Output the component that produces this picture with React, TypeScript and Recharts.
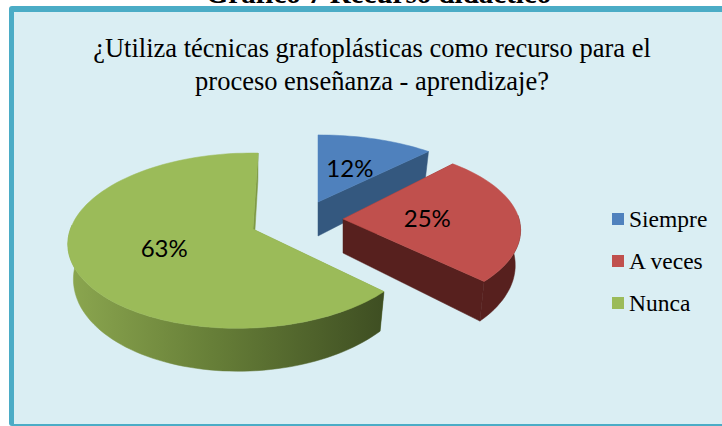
import { Cell, Legend, Pie, PieChart } from "recharts";

const categories = ["Siempre", "A veces", "Nunca"];
const percentages = [12, 25, 63];
const colors = ["#4f81bd", "#c0504d", "#9bbb59"];

const tableData = categories.map((name, i) => ({ name, value: percentages[i] }));

// look of the tilted pie: offset of each exploded slice, radii, perspective
const SLICE_LOOK: Record<string, any> = {
  Siempre: { dx: 65, dy: -27, rx: 177, ry: 76, q: 0, shear: 0, wall: "#34587f", cut: "#34587f", labelAt: 0.52 },
  "A veces": { dx: 90, dy: -10, rx: 176, ry: 83, q: 0, shear: 0, wall: "#57201e", cut: "#57201e", labelAt: 0.48 },
  Nunca: { dx: 0, dy: 0, rx: 174.5, ry: 86, q: 0.044, shear: 0.067, wall: "url(#wallGreen)", cut: "#7f9a45", labelAt: 0.52 },
};

const PERSPECTIVE = 0.133;
const DEPTH = 34;
const LOWER_SCALE_X = 0.97;
const LOWER_SCALE_Y = 1.09;

function project(cx: number, cy: number, look: any, angle: number, f: number, lower = false) {
  const t = ((90 - angle) * Math.PI) / 180;
  const u = Math.sin(t) * f;
  const v = Math.cos(t) * f;
  const w = 1 + PERSPECTIVE * v + look.q * u;
  const py = (-v * look.ry) / w;
  const px = (u * look.rx) / w - look.shear * py;
  const x = lower ? px * LOWER_SCALE_X : px;
  const y = lower ? py * LOWER_SCALE_Y + DEPTH : py;
  return { x: cx + look.dx + x, y: cy + look.dy + y };
}

const pathOf = (pts: { x: number; y: number }[]) =>
  "M" + pts.map((p) => `${p.x.toFixed(1)},${p.y.toFixed(1)}`).join("L") + "Z";

function TiltedSlice(props: any) {
  const { cx, cy, startAngle, endAngle, fill, name } = props;
  const look = SLICE_LOOK[name];
  const steps = Math.ceil(Math.abs(endAngle - startAngle) / 2);
  const angles = Array.from({ length: steps + 1 }, (_, i) => startAngle + ((endAngle - startAngle) * i) / steps);
  const apex = project(cx, cy, look, 0, 0);
  const apexLow = project(cx, cy, look, 0, 0, true);
  const rim = angles.map((a) => project(cx, cy, look, a, 1));
  const rimLow = angles.map((a) => project(cx, cy, look, a, 1, true));
  const last = rim.length - 1;
  // only the near part of the rim shows a wall, the rest sits behind the top face
  const near = angles.filter((a) => Math.sin((a * Math.PI) / 180) < 0.05);
  const wall = [
    ...near.map((a) => project(cx, cy, look, a, 1)),
    ...near.map((a) => project(cx, cy, look, a, 1, true)).reverse(),
  ];
  return (
    <g>
      <path d={pathOf([apex, rim[0], rimLow[0], apexLow])} fill={look.cut} />
      <path d={pathOf([apex, rim[last], rimLow[last], apexLow])} fill={look.cut} stroke={look.cut} strokeWidth={0.5} />
      {wall.length > 0 && <path d={pathOf(wall)} fill={look.wall} stroke={look.wall} strokeWidth={0.5} />}
      <path d={pathOf([apex, ...rim])} fill={fill} stroke={fill} strokeWidth={0.5} />
    </g>
  );
}

function SliceLabel(props: any) {
  const { cx, cy, midAngle, name, value } = props;
  const look = SLICE_LOOK[name];
  const p = project(cx, cy, look, midAngle, look.labelAt);
  return (
    <text x={p.x} y={p.y} textAnchor="middle" dominantBaseline="central" fontFamily="Lato" fontSize={24} fill="#000">
      {value}%
    </text>
  );
}

function LegendList({ payload }: any) {
  return (
    <div>
      {(payload ?? []).map((entry: any) => (
        <div key={entry.value} style={{ display: "flex", alignItems: "center", height: 42 }}>
          <span style={{ width: 12, height: 12, marginRight: 5, background: entry.color }} />
          <span style={{ fontFamily: "Liberation Serif", fontSize: 23.5, color: "#000" }}>{entry.value}</span>
        </div>
      ))}
    </div>
  );
}

const textBase = {
  position: "absolute",
  left: 0,
  width: 744,
  textAlign: "center",
  fontFamily: "Liberation Serif",
  color: "#000",
  whiteSpace: "nowrap",
} as const;

export default function App() {
  return (
    <div style={{ position: "absolute", left: 0, top: 0, width: 722, height: 426, overflow: "hidden", background: "#fff" }}>
      <div style={{ ...textBase, width: 757, top: -22, fontSize: 29, fontWeight: "bold", lineHeight: "30px" }}>
        Gráfico 7 Recurso didáctico
      </div>
      <div
        style={{
          position: "absolute",
          left: 9,
          top: 6,
          width: 720,
          height: 420,
          boxSizing: "border-box",
          background: "#daeef3",
          borderLeft: "5px solid #4bacc6",
          borderTop: "6px solid #4bacc6",
          borderBottom: "2px solid #4bacc6",
          borderRadius: 3,
        }}
      />
      <div style={{ ...textBase, top: 32, fontSize: 26.5, lineHeight: "33px" }}>
        ¿Utiliza técnicas grafoplásticas como recurso para el
        <br />
        proceso enseñanza - aprendizaje?
      </div>
      <div style={{ position: "absolute", left: 0, top: 0 }}>
        <PieChart width={722} height={426} margin={{ top: 0, right: 0, bottom: 0, left: 0 }}>
          <defs>
            <linearGradient id="wallGreen" gradientUnits="userSpaceOnUse" x1={70} y1={0} x2={384} y2={0}>
              <stop offset="0%" stopColor="#8ba64f" />
              <stop offset="45%" stopColor="#677f38" />
              <stop offset="100%" stopColor="#3e4e22" />
            </linearGradient>
          </defs>
          <Pie
            data={tableData}
            dataKey="value"
            nameKey="name"
            cx={253}
            cy={229}
            outerRadius={176}
            startAngle={90}
            endAngle={-270}
            stroke="none"
            shape={TiltedSlice}
            label={SliceLabel}
            labelLine={false}
            isAnimationActive={false}
          >
            {tableData.map((d, i) => (
              <Cell key={d.name} fill={colors[i]} />
            ))}
          </Pie>
          <Legend
            layout="vertical"
            itemSorter={null}
            content={<LegendList />}
            wrapperStyle={{ position: "absolute", left: 612, top: 198, width: 110, bottom: "auto", right: "auto" }}
          />
        </PieChart>
      </div>
    </div>
  );
}
